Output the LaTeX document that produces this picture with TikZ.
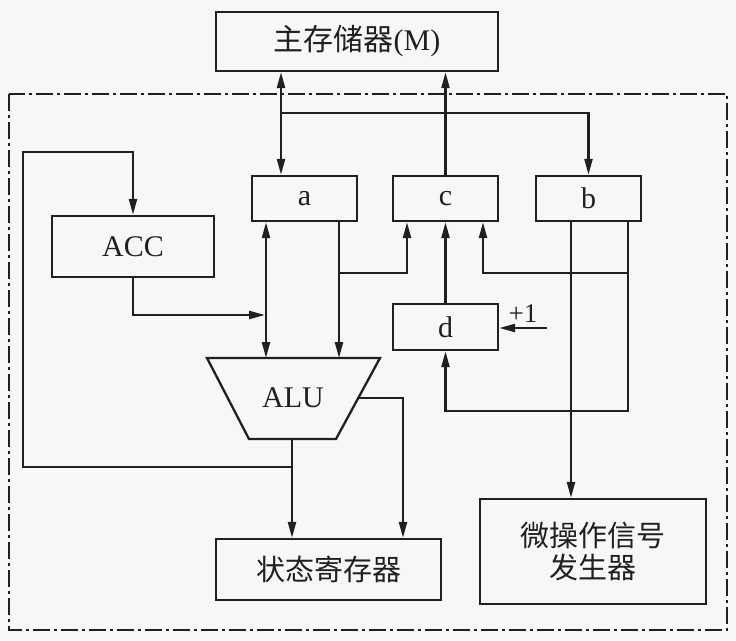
\documentclass[tikz,border=0pt]{standalone}
\usepackage{fontspec}
\setmainfont{Liberation Serif}
\newfontfamily\cjk{Noto Sans CJK SC}
\usetikzlibrary{arrows.meta}
\definecolor{bg}{RGB}{247,247,247}
\definecolor{ink}{RGB}{32,32,32}
\begin{document}
\begin{tikzpicture}[x=1pt,y=-1pt,
  box/.style={draw=ink, line width=2.3pt, inner sep=0pt, text=ink,
    font=\fontsize{30}{36}\selectfont},
  cjkbox/.style={box, font=\cjk\fontsize{29}{35}\selectfont},
  conn/.style={draw=ink, line width=2.3pt},
  arr/.style={conn, -{Triangle[length=16pt,width=8pt]}},
  dbl/.style={conn, {Triangle[length=16pt,width=8pt]}-{Triangle[length=16pt,width=8pt]}},
  frame/.style={draw=ink, line width=2.3pt, dash pattern=on 17pt off 4pt on 3pt off 4pt}]
\fill[bg] (0,0) rectangle (736,640);
\useasboundingbox (0,0) rectangle (736,640);
% helper coordinates
\coordinate (X23) at (23,0);
\coordinate (X266) at (266,0);
\coordinate (X281) at (281,0);
\coordinate (X339) at (339,0);
\coordinate (X403) at (403,0);
\coordinate (X407) at (407,0);
\coordinate (X483) at (483,0);
\coordinate (X571) at (571,0);
\coordinate (X628) at (628,0);
\coordinate (Y113) at (0,113);
\coordinate (Y152) at (0,152);
\coordinate (Y273) at (0,273);
\coordinate (Y315) at (0,315);
\coordinate (Y411) at (0,411);
\coordinate (Y467) at (0,467);
% frame
\draw[frame] (9,94) rectangle (727,630);
% boxes
\node[box, minimum width=282pt, minimum height=59pt] (M) at (357,41.5) {{\cjk 主存储器}(M)};
\node[box, minimum width=105pt, minimum height=45pt] (a) at (304.5,198.5) {\raisebox{-2pt}{a}};
\node[box, minimum width=105pt, minimum height=45pt] (c) at (445.5,198.5) {\raisebox{-2pt}{c}};
\node[box, minimum width=105pt, minimum height=45pt] (b) at (588.5,198.5) {b};
\node[box, minimum width=162pt, minimum height=61pt] (ACC) at (133,246.5) {ACC};
\node[box, minimum width=105pt, minimum height=46pt] (d) at (445.5,327) {d};
\node[cjkbox, minimum width=225pt, minimum height=61pt] (SR) at (328.5,569.5) {状态寄存器};
\node[cjkbox, minimum width=226pt, minimum height=105pt, align=center] (MG) at (593,551.5) {微操作信号\\[-3pt]发生器};
% ALU
\coordinate (ALUtl) at (207,358);
\coordinate (ALUtr) at (380,358);
\coordinate (ALUbr) at (336,439);
\coordinate (ALUbl) at (249,439);
\draw[conn] (ALUtl) -- (ALUtr) -- (ALUbr) -- (ALUbl) -- cycle;
\node[text=ink, font=\fontsize{30}{36}\selectfont, inner sep=0pt] (ALU) at (293,398) {ALU};
\coordinate (ALUout) at (292,439);
\coordinate (ALUr) at (358,398);
% connectors
\draw[dbl] (M.south -| X281) -- (a.north -| X281);
\draw[arr] (X281 |- Y113) -| (b.north);
\draw[arr] (c.north) -- (M.south -| c.north);
\draw[arr] (d.north) -- (c.south);
\draw[dbl] (a.south -| X266) -- (X266 |- ALUtl);
\draw[arr] (a.south -| X339) -- (X339 |- ALUtl);
\draw[arr, shorten >=1pt] (ACC.south) |- (X266 |- Y315);
\draw[arr] (X339 |- Y273) -| (c.south -| X407);
\draw[arr] (b.south -| X628) -- (X628 |- Y411) -| (d.south);
\draw[arr] (X628 |- Y273) -| (c.south -| X483);
\draw[arr] (b.south -| X571) -- (MG.north -| X571);
\coordinate (plusin) at (547,328);
\draw[arr] (plusin) -- (d.east |- plusin);
\node[text=ink, font=\fontsize{27}{32}\selectfont, inner sep=0pt] (plus) at (523,314) {+1};
\draw[arr] (ALUout) -- (SR.north -| ALUout);
\draw[arr] (ALUout |- Y467) -| (X23 |- Y152) -| (ACC.north);
\draw[arr] (ALUr) -| (SR.north -| X403);
\end{tikzpicture}
\end{document}
